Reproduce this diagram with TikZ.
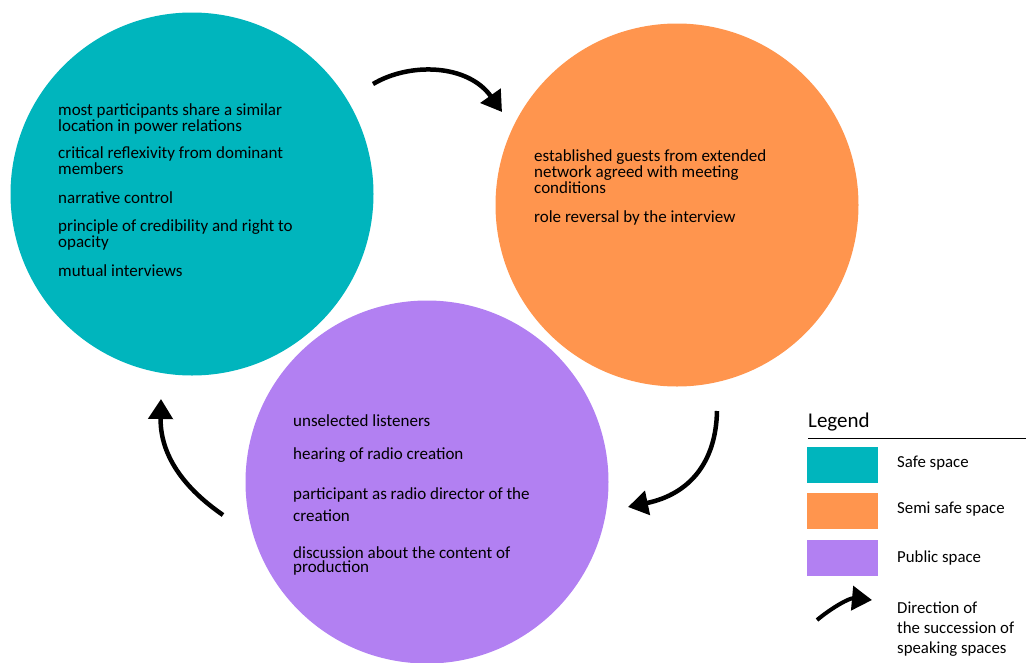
\documentclass[tikz,border=0pt]{standalone}
\usepackage{fontspec}
\setmainfont{Carlito}
\usetikzlibrary{math,calc,arrows.meta}

\definecolor{safecol}{RGB}{0,181,189}
\definecolor{semicol}{RGB}{255,149,78}
\definecolor{publiccol}{RGB}{178,128,242}

\begin{document}
\begin{tikzpicture}[x=1pt,y=-1pt,
    >/.tip={Triangle[length=20pt,width=24pt]},
    space/.style={circle,inner sep=0pt,minimum size=363pt},
    item/.style={anchor=base west,align=left,inner sep=0pt,
      font=\fontsize{17}{14}\selectfont},
    flow/.style={->,line width=4.5pt},
    swatch/.style={minimum width=71pt,minimum height=36pt,inner sep=0pt,anchor=north west},
    legtext/.style={anchor=base west,align=left,inner sep=0pt,
      font=\fontsize{16.8}{20}\selectfont}]
    \useasboundingbox (0,0) rectangle (1026,662);
    % The three speaking spaces
    \node[space,fill=safecol] (safe) at (192,194) {};
    \node[space,fill=semicol] (semi) at (677,205) {};
    \node[space,fill=publiccol] (public) at (427,482) {};
    % Safe space items (anchored at the base of the last line)
    \node[item] (s1) at (58,131) {most participants share a similar\\location in power relations};
    \node[item] (s2) at (58,174) {critical reflexivity from dominant\\members};
    \node[item] (s3) at (58,203) {narrative control};
    \node[item] (s4) at (58,247) {principle of credibility and right to\\opacity};
    \node[item] (s5) at (58,276) {mutual interviews};
    % Semi safe space items
    \node[item] (m1) at (534,193) {established guests from extended\\network agreed with meeting\\conditions};
    \node[item] (m2) at (534,222) {role reversal by the interview};
    % Public space items
    \node[item] (p1) at (293,426) {unselected listeners};
    \node[item] (p2) at (293,459) {hearing of radio creation};
    \node[item] (p3) at (293,521) {participant as radio director of the\\[6pt]creation};
    \node[item] (p4) at (293,572) {discussion about the content of\\production};
    % The succession arrows
    \coordinate (a1) at (373,84);
    \coordinate (b1) at (502,112);
    \coordinate (a2) at (717,411);
    \coordinate (b2) at (628,507);
    \coordinate (a3) at (223,515);
    \coordinate (b3) at (161,399);
    \draw[flow] (a1) .. controls (410,62) and (468,64) .. (b1);
    \draw[flow] (a2) .. controls (716,462) and (690,494) .. (b2);
    \draw[flow] (a3) .. controls (178,484) and (160,450) .. (b3);
    % The legend
    \node[anchor=base west,inner sep=0pt,font=\fontsize{21}{22}\selectfont] (legend) at (808,427) {Legend};
    \coordinate (rule) at (1026,438);
    \draw[line width=1pt] (808,438) -- (rule);
    \node[swatch,fill=safecol] (k1) at (807,447) {};
    \node[swatch,fill=semicol] (k2) at (807,493) {};
    \node[swatch,fill=publiccol] (k3) at (807,540) {};
    \node[legtext] (t1) at (897,467) {Safe space};
    \node[legtext] (t2) at (897,513) {Semi safe space};
    \node[legtext] (t3) at (897,562) {Public space};
    \node[legtext] (t4) at (897,653) {Direction of\\the succession of\\speaking spaces};
    \coordinate (la) at (817,620);
    \coordinate (lb) at (872,600);
    \draw[->,line width=4pt] (la) .. controls (834,606) and (850,598) .. (lb);
\end{tikzpicture}
\end{document}
